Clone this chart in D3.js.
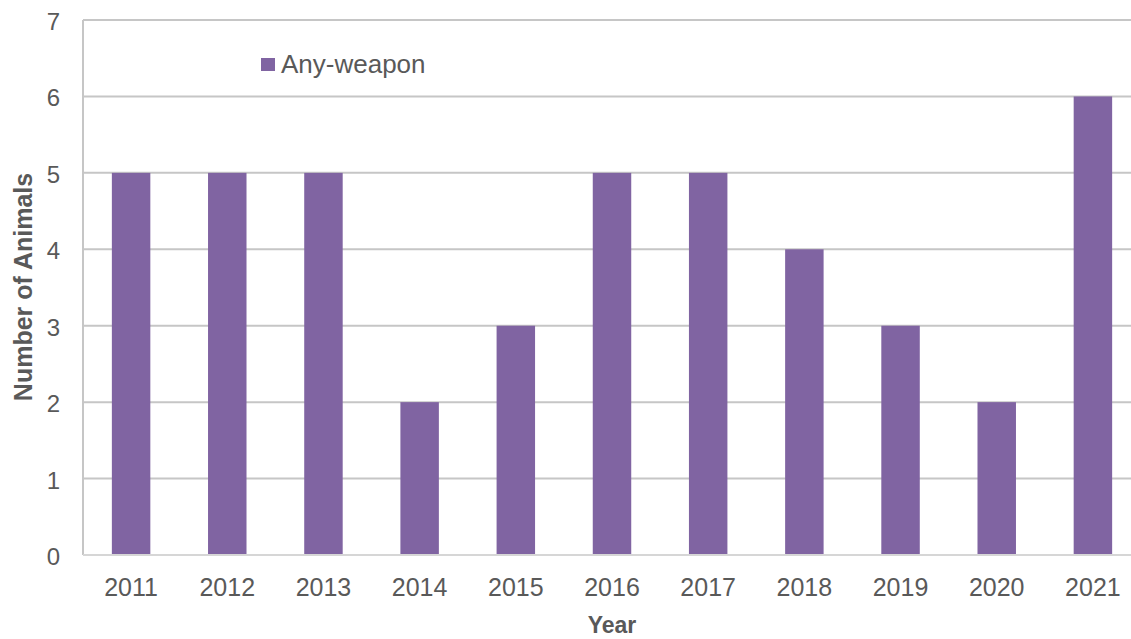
<!DOCTYPE html>
<meta charset="utf-8">
<style>
body { margin: 0; background: #fff; }
svg { font-family: Arial, "Liberation Sans", Helvetica, sans-serif; }
</style>
<body>
<script src="https://d3js.org/d3.v7.min.js"></script>
<script>
// data
const years = ["2011","2012","2013","2014","2015","2016","2017","2018","2019","2020","2021"];
const anyWeapon = [5, 5, 5, 2, 3, 5, 5, 4, 3, 2, 6];
const seriesName = "Any-weapon";
const yTicks = [0, 1, 2, 3, 4, 5, 6, 7];

const W = 1131, H = 639;
const plotLeft = 83, plotTop = 20, plotBottom = 555, plotRight = 1141;

const svg = d3.select("body").append("svg")
    .attr("width", W).attr("height", H);

const x = d3.scaleBand().domain(years).range([plotLeft, plotRight]).paddingInner(0.6).paddingOuter(0.3);
const y = d3.scaleLinear().domain([0, 7]).range([plotBottom, plotTop]);

// gridlines
svg.append("g").selectAll("line")
    .data(yTicks.filter(d => d > 0))
    .enter().append("line")
    .attr("x1", plotLeft).attr("x2", W)
    .attr("y1", d => y(d)).attr("y2", d => y(d))
    .attr("stroke", "#c6c6c6").attr("stroke-width", 2);

// bars
svg.append("g").selectAll("rect")
    .data(anyWeapon)
    .enter().append("rect")
    .attr("x", (d, i) => x(years[i]))
    .attr("y", d => y(d))
    .attr("width", x.bandwidth())
    .attr("height", d => plotBottom - y(d))
    .attr("fill", "#8064a2");

// axes lines
svg.append("line").attr("x1", plotLeft).attr("x2", plotLeft).attr("y1", plotTop).attr("y2", plotBottom)
    .attr("stroke", "#c6c6c6").attr("stroke-width", 2);
svg.append("line").attr("x1", plotLeft).attr("x2", W).attr("y1", plotBottom).attr("y2", plotBottom)
    .attr("stroke", "#d6d6d6").attr("stroke-width", 2);

// y tick labels
svg.append("g").selectAll("text")
    .data(yTicks)
    .enter().append("text")
    .attr("x", 60).attr("y", d => y(d) + 10)
    .attr("text-anchor", "end")
    .attr("font-size", 24).attr("fill", "#595959")
    .text(d => d);

// x tick labels
svg.append("g").selectAll("text")
    .data(years)
    .enter().append("text")
    .attr("x", d => x(d) + x.bandwidth() / 2).attr("y", 596)
    .attr("text-anchor", "middle")
    .attr("font-size", 25).attr("fill", "#595959")
    .text(d => d);

// axis titles
svg.append("text")
    .attr("x", 612).attr("y", 633)
    .attr("text-anchor", "middle")
    .attr("font-size", 23).attr("font-weight", "bold").attr("fill", "#595959")
    .text("Year");
svg.append("text")
    .attr("transform", "translate(32,287) rotate(-90)")
    .attr("text-anchor", "middle")
    .attr("font-size", 25).attr("font-weight", "bold").attr("fill", "#595959")
    .text("Number of Animals");

// legend
svg.append("rect").attr("x", 261).attr("y", 58).attr("width", 14).attr("height", 13).attr("fill", "#8064a2");
svg.append("text").attr("x", 281).attr("y", 73)
    .attr("font-size", 26).attr("fill", "#595959")
    .text(seriesName);
</script>
</body>
